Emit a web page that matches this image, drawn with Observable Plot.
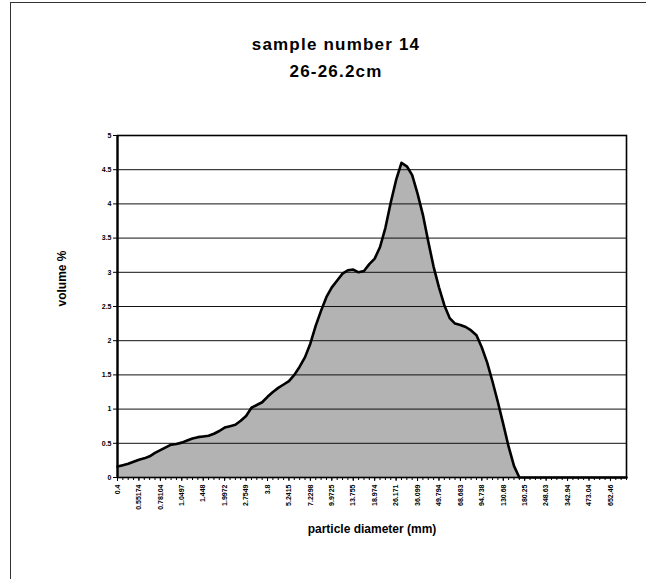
<!DOCTYPE html>
<html>
<head>
<meta charset="utf-8">
<script src="https://cdn.jsdelivr.net/npm/d3@7"></script>
<script src="https://cdn.jsdelivr.net/npm/@observablehq/plot@0.6"></script>
<style>
  html, body { margin: 0; padding: 0; background: #fff; }
  #wrap { position: relative; width: 654px; height: 579px; overflow: hidden; font-family: "Liberation Sans", Arial, sans-serif; }
  #title { position: absolute; left: 186px; width: 300px; top: 31px; text-align: center; font-size: 17px; font-weight: bold; line-height: 27px; letter-spacing: 1.2px; color: #000; white-space: nowrap; }
  #chart { position: absolute; left: 0; top: 100px; }
  .edge { position: absolute; background: #333; }
</style>
</head>
<body>
<div id="wrap">
  <div class="edge" style="left:10px; top:2px; width:1px; height:577px;"></div>
  <div class="edge" style="left:10px; top:2px; width:636px; height:1px;"></div>
  <div id="title">sample number 14<br>26-26.2cm</div>
  <div id="chart"></div>
</div>
<script>
// category labels shown on the x axis (every 4th size class)
const tickLabels = ["0.4","0.55174","0.78104","1.0497","1.448","1.9972","2.7549","3.8","5.2415","7.2298","9.9725","13.755","18.974","26.171","36.099","49.794","68.683","94.738","130.68","180.25","248.63","342.94","473.04","652.46"];
// volume % for each of the 96 size classes
const volume = [
  0.16,0.18,0.20,0.23,0.26,0.28,0.31,0.36,0.40,0.44,
  0.48,0.49,0.51,0.54,0.57,0.59,0.60,0.61,0.64,0.68,
  0.73,0.75,0.77,0.83,0.90,1.02,1.06,1.10,1.18,1.25,
  1.31,1.36,1.41,1.50,1.62,1.76,1.96,2.22,2.44,2.64,
  2.78,2.88,2.98,3.03,3.04,3.00,3.02,3.12,3.20,3.37,
  3.65,4.02,4.35,4.60,4.55,4.42,4.15,3.84,3.45,3.08,
  2.78,2.52,2.33,2.25,2.23,2.20,2.15,2.08,1.90,1.68,
  1.40,1.10,0.78,0.45,0.17,0,0,0,0,0,
  0,0,0,0,0,0,0,0,0,0,
  0,0,0,0,0,0
];
const yTicks = [0,0.5,1,1.5,2,2.5,3,3.5,4,4.5,5];
const titleText = "sample number 14";
const xLabel = "particle diameter (mm)";
const yLabel = "volume %";

const data = volume.map((v, i) => ({i, v}));
const n = volume.length;
const labelIdx = tickLabels.map((_, k) => k * 4);

const chart = Plot.plot({
  width: 654,
  height: 479,
  marginLeft: 117,
  marginRight: 28,
  marginTop: 35,
  marginBottom: 102,
  style: {fontFamily: "'Liberation Sans', Arial, sans-serif", background: "transparent"},
  x: {type: "linear", domain: [0, n - 1]},
  y: {domain: [0, 5]},
  marks: [
    Plot.areaY(data, {x: "i", y: "v", fill: "#b3b3b3"}),
    Plot.ruleY(yTicks.slice(1), {stroke: "#111", strokeWidth: 1}),
    Plot.lineY(data, {x: "i", y: "v", stroke: "#000", strokeWidth: 2.6, strokeLinejoin: "round"}),
    Plot.axisX(d3.range(n), {tickSize: 3, tickFormat: () => "", label: null, stroke: "#000"}),
    Plot.axisX(labelIdx, {tickSize: 4, tickRotate: -90, tickPadding: 3, tickFormat: i => tickLabels[i / 4], fontSize: 7, fontWeight: "bold", label: null, fill: "#000"}),
    Plot.axisY(yTicks, {tickSize: 4, tickPadding: 2, fontSize: 7, fontWeight: "bold", label: null, fill: "#000", tickFormat: d => String(d)}),
    Plot.frame({stroke: "#000", strokeWidth: 1.6}),
    Plot.ruleX([0], {stroke: "#000", strokeWidth: 2.2}),
    Plot.text([xLabel], {frameAnchor: "bottom", dy: 55, fontSize: 12, fontWeight: "bold", fill: "#000", text: d => d}),
    Plot.text([yLabel], {frameAnchor: "left", dx: -55, rotate: -90, fontSize: 12, fontWeight: "bold", fill: "#000", text: d => d})
  ]
});
document.getElementById("chart").appendChild(chart);
</script>
</body>
</html>
